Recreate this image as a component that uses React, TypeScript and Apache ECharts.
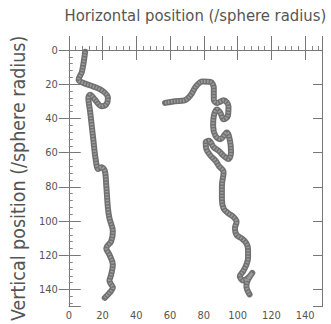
import React, { useEffect, useRef } from "react";
import * as echarts from "echarts";

const tickLabels = [0, 20, 40, 60, 80, 100, 120, 140];

const leftChainX = [9.7, 7.8, 5.8, 8.7, 14.5, 20.3, 23.2, 22.2, 19.3, 15.5, 12.6, 11.6, 12.6, 13.5, 14.5, 15.9, 17.4, 19.3, 21.3, 22.2, 23.2, 24.1, 26.1, 25.1, 22.2, 24.1, 26.1, 25.1, 24.1, 26.1, 24.1, 21.3];
const leftChainY = [1.0, 12.6, 17.4, 19.3, 21.3, 24.1, 28.0, 31.8, 32.8, 29.0, 26.1, 28.0, 35.7, 43.4, 52.1, 63.7, 69.5, 68.5, 70.5, 79.2, 92.6, 98.4, 106.0, 111.8, 115.8, 119.7, 125.5, 131.3, 134.9, 139.0, 141.9, 144.8];

const rightChainX = [57.0, 62.8, 68.6, 72.4, 75.3, 79.2, 84.0, 85.9, 85.9, 87.8, 91.7, 94.6, 94.2, 91.7, 89.8, 87.8, 85.9, 85.5, 86.9, 89.8, 93.6, 95.5, 96.1, 94.6, 91.7, 88.8, 85.9, 83.0, 81.1, 81.5, 84.0, 86.9, 88.8, 91.7, 90.7, 90.7, 91.7, 94.6, 97.5, 99.4, 98.4, 99.4, 102.3, 105.2, 106.2, 106.2, 105.2, 103.3, 101.3, 103.3, 106.2, 108.7, 106.2, 105.2, 107.1];
const rightChainY = [30.9, 29.9, 29.4, 26.1, 21.3, 18.4, 18.7, 22.2, 29.0, 30.9, 29.4, 32.8, 38.6, 40.5, 36.7, 34.7, 38.6, 44.4, 50.2, 52.1, 48.2, 53.1, 59.8, 63.7, 61.8, 58.9, 56.9, 53.1, 54.0, 57.9, 61.8, 64.7, 67.6, 71.4, 79.2, 86.9, 92.6, 95.5, 97.5, 100.3, 104.2, 108.1, 110.0, 112.9, 116.8, 121.6, 125.5, 129.3, 132.2, 134.7, 133.2, 130.3, 134.2, 138.0, 142.8];

const xTitle = "Horizontal position (/sphere radius)";
const yTitle = "Vertical position (/sphere radius)";

const FONT = "'DejaVu Sans Condensed', 'Liberation Sans Narrow', 'Open Sans', sans-serif";
const AX = "#777";
const TXT = "#555";

function pairs(xs: number[], ys: number[]) {
  return xs.map((x, i) => [x, ys[i]]);
}

const fmt = (v: number) => (tickLabels.includes(v) ? String(v) : "");

export default function App() {
  const ref = useRef<HTMLDivElement>(null);
  useEffect(() => {
    if (!ref.current) return;
    const chart = echarts.init(ref.current, undefined, { renderer: "svg" });
    const base = {
      type: "value" as const,
      min: 0,
      max: 150,
      interval: 20,
      splitLine: { show: false },
      axisLine: { show: true, lineStyle: { color: AX, width: 1 } },
    };
    const chains = [pairs(leftChainX, leftChainY), pairs(rightChainX, rightChainY)];
    const series: any[] = [];
    chains.forEach((d) => {
      series.push({
        type: "line",
        data: d,
        showSymbol: false,
        smooth: 0.35,
        silent: true,
        lineStyle: { width: 6, color: "#707070", cap: "round", join: "round" },
      });
      series.push({
        type: "line",
        data: d,
        showSymbol: false,
        smooth: 0.35,
        silent: true,
        lineStyle: { width: 3, color: "#9c9c9c", type: [1.5, 1.5], cap: "butt" },
      });
    });
    chart.setOption({
      animation: false,
      backgroundColor: "#fff",
      grid: { left: 63, top: 50, right: 9, bottom: 15, containLabel: false },
      xAxis: [
        {
          ...base,
          position: "bottom",
          axisTick: { show: true, inside: true, length: 14, lineStyle: { color: AX } },
          minorTick: { show: true, splitNumber: 5, length: 4, lineStyle: { color: "#888" } },
          axisLabel: { margin: 3, fontSize: 11, color: TXT, fontFamily: FONT, formatter: fmt, showMaxLabel: false },
        },
        {
          ...base,
          position: "top",
          axisTick: { show: true, inside: true, length: 10, lineStyle: { color: AX } },
          axisLabel: { show: false },
          name: xTitle,
          nameLocation: "middle",
          nameGap: 26,
          nameTextStyle: { fontSize: 16.5, color: TXT, fontFamily: FONT },
        },
        {
          ...base,
          position: "top",
          axisTick: { show: true, inside: false, length: 12, lineStyle: { color: AX } },
          axisLabel: { show: false },
        },
      ],
      yAxis: [
        {
          ...base,
          inverse: true,
          position: "left",
          axisTick: { show: true, inside: false, length: 10, lineStyle: { color: AX } },
          axisLabel: { margin: 11, fontSize: 11, color: TXT, fontFamily: FONT, formatter: fmt, showMaxLabel: false },
          name: yTitle,
          nameLocation: "middle",
          nameGap: 39,
          nameRotate: 90,
          nameTextStyle: { fontSize: 19.5, color: TXT, fontFamily: FONT },
        },
        {
          ...base,
          inverse: true,
          position: "left",
          axisTick: { show: true, inside: true, length: 12, lineStyle: { color: AX } },
          minorTick: { show: true, splitNumber: 5, length: 4, lineStyle: { color: "#888" } },
          axisLabel: { show: false },
        },
        {
          ...base,
          inverse: true,
          position: "right",
          axisTick: { show: true, inside: false, length: 9, lineStyle: { color: AX } },
          axisLabel: { show: false },
        },
        {
          ...base,
          inverse: true,
          position: "right",
          axisTick: { show: true, inside: true, length: 9, lineStyle: { color: AX } },
          axisLabel: { show: false },
        },
      ],
      series,
    });
    return () => chart.dispose();
  }, []);
  return (
    <div
      ref={ref}
      style={{ position: "fixed", left: 0, top: 0, width: 331, height: 324 }}
    />
  );
}
